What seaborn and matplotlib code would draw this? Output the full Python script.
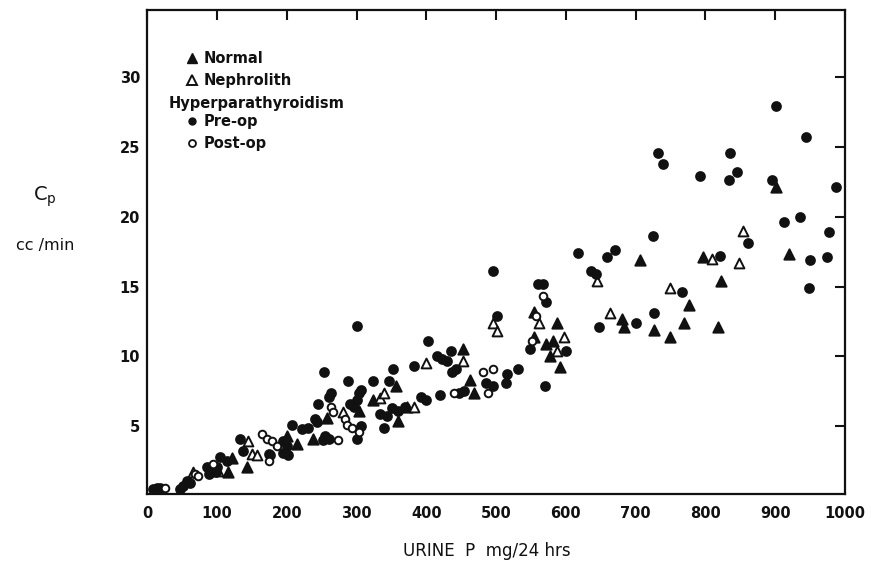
import matplotlib
matplotlib.use("Agg")
import matplotlib.pyplot as plt
import seaborn as sns
import pandas as pd
from matplotlib.lines import Line2D

# ---------------- data ----------------
normal_x = [116, 122, 143, 201, 215, 237, 258, 303, 323, 357, 359, 373, 453, 462, 468,
            554, 555, 571, 577, 581, 587, 591, 681, 683, 706, 726, 749, 769, 776, 797,
            818, 822, 901, 920]
normal_y = [1.7, 2.7, 2.1, 4.3, 3.7, 4.1, 5.6, 6.1, 6.9, 7.9, 5.4, 6.4, 10.5, 8.3, 7.4,
            11.4, 13.2, 10.9, 10.0, 11.1, 12.4, 9.2, 12.7, 12.1, 16.9, 11.9, 11.4, 12.4, 13.7, 17.1,
            12.1, 15.4, 22.1, 17.3]

nephro_x = [66, 102, 145, 150, 157, 281, 333, 340, 382, 399, 452, 495, 502, 561, 588,
            597, 645, 663, 750, 809, 848, 854]
nephro_y = [1.7, 1.8, 3.9, 3.0, 2.9, 6.0, 7.0, 7.4, 6.4, 9.5, 9.7, 12.4, 11.8, 12.4, 10.4,
            11.4, 15.4, 13.1, 14.9, 17.0, 16.7, 19.0]

preop_x = [9, 14, 19, 47, 52, 57, 62, 86, 88, 93,
           98, 100, 105, 115, 133, 138, 174, 176, 195, 202,
           194, 201, 207, 222, 230, 241, 244, 245, 253, 252,
           255, 260, 261, 263, 288, 290, 296, 301, 304, 307,
           301, 306, 301, 323, 347, 353, 333, 344, 339, 351,
           359, 370, 382, 392, 400, 420, 402, 416, 423, 430,
           435, 437, 442, 447, 454, 486, 495, 495, 502, 515,
           516, 532, 548, 560, 567, 571, 570, 601, 618, 636,
           643, 647, 659, 670, 700, 727, 725, 732, 739, 766,
           793, 821, 834, 836, 845, 861, 895, 902, 913, 935,
           944, 948, 950, 974, 977, 987]
preop_y = [0.5, 0.6, 0.6, 0.5, 0.7, 1.1, 0.9, 2.1, 1.6, 1.9,
           1.7, 2.1, 2.8, 2.5, 4.1, 3.2, 3.0, 2.9, 3.1, 2.9,
           3.9, 3.6, 5.1, 4.8, 4.9, 5.5, 5.3, 6.6, 8.9, 4.0,
           4.3, 4.1, 7.1, 7.4, 8.2, 6.6, 6.4, 6.9, 7.4, 7.6,
           4.1, 5.0, 12.2, 8.2, 8.2, 9.1, 5.9, 5.7, 4.9, 6.3,
           6.1, 6.4, 9.3, 7.1, 6.9, 7.2, 11.1, 10.0, 9.8, 9.7,
           10.4, 8.9, 9.1, 7.4, 7.5, 8.1, 7.9, 16.1, 12.9, 8.1,
           8.7, 9.1, 10.5, 15.2, 15.2, 13.9, 7.9, 10.4, 17.4, 16.1,
           15.9, 12.1, 17.1, 17.6, 12.4, 13.1, 18.6, 24.6, 23.8, 14.6,
           22.9, 17.2, 22.6, 24.6, 23.2, 18.1, 22.6, 27.9, 19.6, 20.0,
           25.7, 14.9, 16.9, 17.1, 18.9, 22.1]

postop_x = [26, 69, 73, 95, 165, 172, 179, 186, 174, 263, 267, 284, 287, 294, 274,
            304, 440, 481, 496, 488, 551, 557, 567]
postop_y = [0.6, 1.6, 1.4, 2.3, 4.4, 4.1, 3.9, 3.6, 2.5, 6.4, 6.0, 5.5, 5.1, 4.9, 4.0,
            4.6, 7.4, 8.9, 9.1, 7.4, 11.1, 12.9, 14.3]

x_ticks = [0, 100, 200, 300, 400, 500, 600, 700, 800, 900, 1000]
y_ticks = [5, 10, 15, 20, 25, 30]

# ---------------- style ----------------
sns.set_theme(style="white")
plt.rcParams['font.family'] = ['DejaVu Sans']
INK = "#111111"

fig = plt.figure(figsize=(8.71, 5.65), dpi=100)
ax = fig.add_axes([0.169, 0.126, 0.801, 0.856])

groups = [
    (normal_x, normal_y, "^", INK, 55),
    (nephro_x, nephro_y, "^", "white", 50),
    (preop_x, preop_y, "o", INK, 40),
    (postop_x, postop_y, "o", "white", 30),
]
for xs, ys, mk, fc, s in groups:
    df = pd.DataFrame({"x": xs, "y": ys})
    sns.scatterplot(data=df, x="x", y="y", marker=mk, s=s, color=fc,
                    edgecolor=INK, linewidth=1.4, ax=ax, legend=False, zorder=3)

ax.set_xlim(0, 1000)
ax.set_ylim(0.15, 34.8)
ax.set_xticks(x_ticks)
ax.set_yticks(y_ticks)
ax.set_xticklabels([str(t) for t in x_ticks])
ax.set_yticklabels([str(t) for t in y_ticks])

for sp in ax.spines.values():
    sp.set_linewidth(1.6)
    sp.set_color(INK)
    sp.set_visible(True)

ax.tick_params(axis="both", direction="in", length=7, width=1.5, colors=INK,
               top=True, right=True, labelsize=10.5)
ax.tick_params(axis="x", pad=9)
ax.tick_params(axis="y", pad=5)
for lab in ax.get_xticklabels() + ax.get_yticklabels():
    lab.set_fontweight("bold")

ax.set_xlabel("URINE  P  mg/24 hrs", fontsize=12, color=INK)
ax.xaxis.set_label_coords(0.487, -0.118)
ax.xaxis.label.set_va("center")
ax.set_ylabel("")

ax.text(-0.146, 0.615, r"C$_\mathregular{p}$", transform=ax.transAxes,
        fontsize=14, ha="center", va="center", color=INK)
ax.text(-0.146, 0.514, "cc /min", transform=ax.transAxes,
        fontsize=11.5, ha="center", va="center", color=INK)

# legend
h_norm = Line2D([], [], marker="^", ls="none", color=INK, markersize=6.5)
h_neph = Line2D([], [], marker="^", ls="none", mfc="white", mec=INK, mew=1.4, markersize=6.5)
h_pre = Line2D([], [], marker="o", ls="none", color=INK, markersize=5)
h_post = Line2D([], [], marker="o", ls="none", mfc="white", mec=INK, mew=1.3, markersize=5)

common = dict(loc="upper left", frameon=False, handlelength=0.6, handletextpad=0.5,
              borderpad=0, borderaxespad=0, labelspacing=0.45,
              prop={"size": 10.5, "weight": "bold"})
leg1 = ax.legend(handles=[h_norm, h_neph], labels=["Normal", "Nephrolith"],
                 bbox_to_anchor=(0.058, 0.915), **common)
for t in leg1.get_texts():
    t.set_color(INK)
ax.add_artist(leg1)
ax.text(0.031, 0.808, "Hyperparathyroidism", transform=ax.transAxes,
        fontsize=10.5, fontweight="bold", ha="left", va="center", color=INK)
leg2 = ax.legend(handles=[h_pre, h_post], labels=["Pre-op", "Post-op"],
                 bbox_to_anchor=(0.058, 0.785), **common)
for t in leg2.get_texts():
    t.set_color(INK)

fig.savefig("out.png", dpi=100)
